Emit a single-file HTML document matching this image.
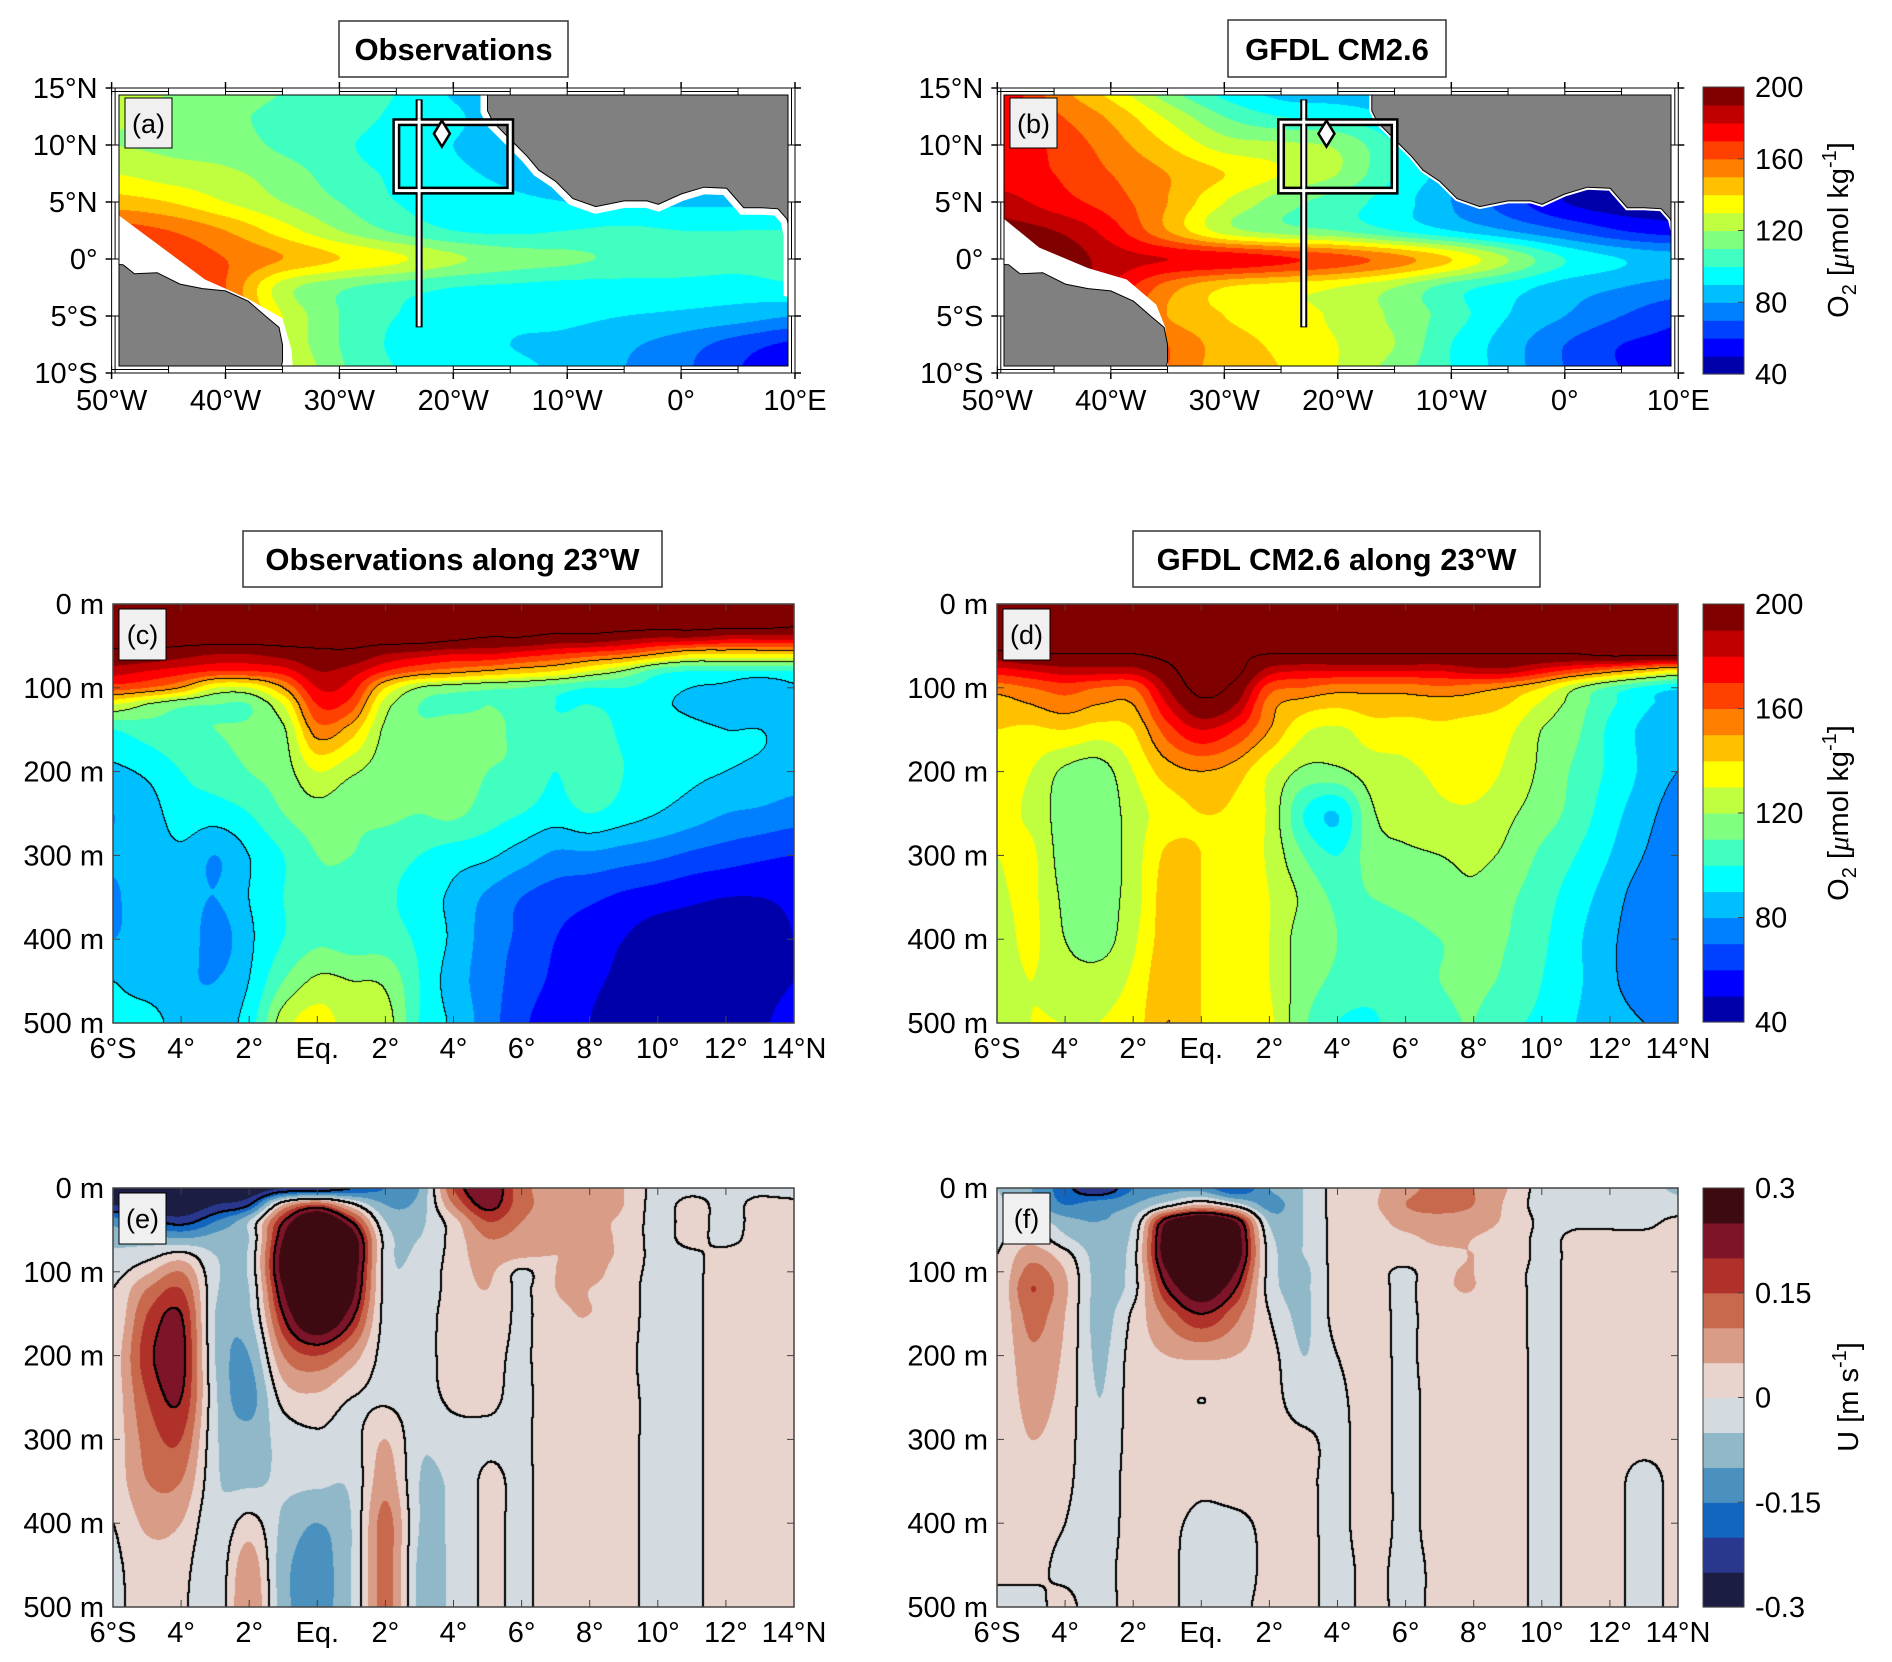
<!DOCTYPE html>
<html><head><meta charset="utf-8">
<style>
html,body{margin:0;padding:0;background:#fff;}
#wrap{position:relative;width:1892px;height:1662px;overflow:hidden;background:#fff;font-family:"Liberation Sans",sans-serif;}
canvas{position:absolute;}
#ov{position:absolute;left:0;top:0;}
</style></head><body>
<div id="wrap">
<canvas id="cvA"></canvas>
<canvas id="cvB"></canvas>
<canvas id="cvC"></canvas>
<canvas id="cvD"></canvas>
<canvas id="cvE"></canvas>
<canvas id="cvF"></canvas>
<svg id="ov" width="1892" height="1662" xmlns="http://www.w3.org/2000/svg" font-family="Liberation Sans, sans-serif">
<g><rect x="339" y="21" width="229" height="56" fill="#fff" stroke="#333" stroke-width="1.5"/><text x="453.5" y="60" font-size="31" font-weight="bold" text-anchor="middle">Observations</text></g>
<g><rect x="1228" y="20" width="218" height="57" fill="#fff" stroke="#333" stroke-width="1.5"/><text x="1337" y="60" font-size="31" font-weight="bold" text-anchor="middle">GFDL CM2.6</text></g>
<g><rect x="243" y="531" width="419" height="56" fill="#fff" stroke="#333" stroke-width="1.5"/><text x="452.5" y="570" font-size="31" font-weight="bold" text-anchor="middle">Observations along 23°W</text></g>
<g><rect x="1133" y="531" width="407" height="56" fill="#fff" stroke="#333" stroke-width="1.5"/><text x="1336.5" y="570" font-size="31" font-weight="bold" text-anchor="middle">GFDL CM2.6 along 23°W</text></g>
<text transform="translate(1848,230) rotate(-90)" font-size="29" text-anchor="middle">O<tspan font-size="20" dy="8">2</tspan><tspan dy="-8"> [</tspan><tspan font-style="italic" font-family="Liberation Serif, serif">μ</tspan>mol kg<tspan font-size="20" dy="-12">-1</tspan><tspan dy="12">]</tspan></text>
<text transform="translate(1848,813) rotate(-90)" font-size="29" text-anchor="middle">O<tspan font-size="20" dy="8">2</tspan><tspan dy="-8"> [</tspan><tspan font-style="italic" font-family="Liberation Serif, serif">μ</tspan>mol kg<tspan font-size="20" dy="-12">-1</tspan><tspan dy="12">]</tspan></text>
<text transform="translate(1858,1397) rotate(-90)" font-size="29" text-anchor="middle">U [m s<tspan font-size="20" dy="-12">-1</tspan><tspan dy="12">]</tspan></text>
<g id="dyn"></g>
</svg>
</div>
<script>
// ---------- DATA ----------
const mapLons=[-50,-45,-40,-35,-30,-25,-20,-15,-10,-5,0,5,10];
const mapLats=[15,12.5,10,7.5,5,2.5,0,-2.5,-5,-7.5,-10];
const obsMapO2=[
[125,120,115,110,105,100,88,80,80,80,80,80,80],
[122,118,112,108,105,98,92,82,80,80,80,80,80],
[120,118,115,108,102,95,90,85,80,80,80,80,80],
[130,125,122,115,105,98,92,88,85,80,80,80,80],
[145,140,130,120,110,100,95,92,90,88,88,88,85],
[165,160,150,135,120,108,100,98,100,102,100,100,100],
[170,168,160,150,140,132,122,115,112,108,106,104,106],
[170,172,160,125,112,105,100,98,96,96,96,95,98],
[150,165,160,130,110,100,95,92,92,90,88,85,80],
[150,150,155,130,110,98,92,90,88,82,75,65,58],
[150,150,150,135,112,100,95,92,88,80,72,60,55]];
const modelMapO2=[
[180,155,135,112,95,85,82,80,80,80,80,80,80],
[175,162,148,128,110,100,98,90,85,80,80,80,80],
[178,168,155,140,125,122,118,100,85,70,60,55,55],
[175,170,160,150,140,130,120,100,85,70,55,50,50],
[185,175,165,150,130,115,105,95,80,65,50,45,45],
[195,190,175,150,125,115,110,100,90,80,70,60,55],
[205,200,185,180,178,172,165,155,140,120,100,90,85],
[205,200,180,155,140,135,130,120,105,95,85,80,75],
[200,195,170,150,140,135,128,118,105,90,80,70,62],
[195,190,170,160,145,138,130,120,100,85,70,60,58],
[190,190,185,160,145,140,130,115,100,85,70,60,60]];
const secLats=[-6,-5,-4,-3,-2,-1,0,1,2,3,4,5,6,7,8,9,10,11,12,13,14];
const secDepths=[0,20,40,60,80,100,120,150,200,250,300,350,400,450,500];
const obsSecO2=[
[230,230,230,230,230,230,230,230,230,230,230,230,230,230,230,230,230,230,230,230,230],
[220,220,220,220,220,220,220,220,220,220,220,220,220,220,220,220,220,220,220,220,215],
[215,215,215,215,215,215,215,215,215,215,210,205,205,200,200,195,190,190,185,185,185],
[200,200,195,190,190,195,200,200,190,185,180,180,175,170,165,160,150,140,140,140,140],
[185,180,175,170,170,175,190,185,170,160,155,150,145,140,130,120,105,100,100,100,100],
[165,160,150,130,130,150,180,175,140,120,115,112,110,105,100,100,95,90,88,82,88],
[130,120,112,110,110,130,170,165,125,110,108,110,108,100,100,98,92,88,85,82,80],
[100,105,108,110,112,118,155,145,118,112,115,112,108,102,105,98,95,92,90,90,88],
[88,92,100,105,110,115,130,122,115,112,115,110,108,100,108,100,95,92,90,88,85],
[80,85,95,95,100,110,116,112,112,110,112,105,100,95,100,95,90,85,80,78,75],
[82,85,88,80,90,100,110,110,105,100,95,92,85,78,78,75,72,68,65,62,60],
[78,88,85,80,90,100,108,105,102,95,88,78,70,65,62,58,55,52,50,50,52],
[80,85,88,75,88,100,108,105,105,98,88,75,68,60,55,50,45,45,45,45,50],
[90,85,82,80,90,110,122,120,118,100,85,75,65,58,52,48,45,45,45,45,50],
[92,95,85,85,95,125,135,125,125,100,88,75,62,55,50,45,45,45,45,48,55]];
const modelSecO2=[
[220,220,220,220,220,220,220,220,220,220,220,220,220,220,220,220,220,220,220,220,220],
[220,220,220,220,220,220,220,220,220,220,220,220,220,220,220,220,220,220,220,220,220],
[220,220,220,220,220,220,220,220,220,220,220,220,220,220,220,220,220,220,220,220,220],
[200,205,205,205,205,210,215,210,205,205,205,205,205,205,205,205,205,205,210,210,210],
[175,180,185,185,185,200,215,210,185,180,180,180,180,180,185,185,175,165,155,145,135],
[155,160,165,160,160,190,210,200,165,160,155,155,155,158,155,150,140,122,108,98,92],
[145,150,155,150,150,180,200,190,155,145,142,145,145,145,145,140,128,115,102,92,86],
[140,138,140,135,140,165,180,170,150,132,128,135,135,138,135,132,120,112,98,88,84],
[135,130,118,115,130,145,150,145,130,118,118,125,128,132,135,128,118,108,98,88,80],
[132,128,115,112,125,135,140,138,128,100,90,118,125,128,128,122,115,106,94,84,75],
[130,132,115,112,125,142,140,138,128,110,100,115,118,120,122,118,108,100,90,80,72],
[128,132,118,115,125,145,140,138,130,118,108,110,112,115,118,112,104,95,85,75,72],
[125,132,120,115,128,145,140,138,130,115,110,108,108,110,112,110,102,92,82,75,75],
[125,130,125,125,132,148,140,138,130,115,108,105,108,110,112,108,100,92,82,76,78],
[125,130,130,130,135,150,140,138,132,112,100,98,108,108,110,102,98,90,84,80,80]];
const obsSecU=[
[-0.3,-0.3,-0.3,-0.3,-0.3,-0.25,-0.25,-0.2,-0.15,-0.1,0.15,0.25,0.12,0.08,0.08,0.05,-0.02,-0.02,-0.02,-0.02,-0.04],
[-0.25,-0.3,-0.3,-0.25,-0.2,0.05,0.15,0.02,-0.1,-0.08,0.1,0.22,0.12,0.08,0.08,0.05,-0.02,0.02,-0.02,0.02,0.02],
[-0.12,-0.18,-0.22,-0.15,-0.05,0.2,0.35,0.2,-0.05,-0.06,0.03,0.15,0.1,0.07,0.06,0.04,-0.02,0.02,-0.02,0.02,0.02],
[-0.07,-0.08,-0.1,-0.08,-0.05,0.25,0.4,0.3,-0.02,-0.05,0.02,0.1,0.08,0.06,0.06,0.04,-0.02,0.02,-0.02,0.03,0.02],
[-0.04,-0.02,0.02,-0.05,-0.04,0.28,0.42,0.32,-0.02,-0.04,0.02,0.08,0.06,0.05,0.06,0.04,-0.02,-0.01,0.02,0.03,0.02],
[-0.02,0.04,0.1,-0.04,-0.04,0.28,0.42,0.3,-0.02,-0.03,0.02,0.06,-0.01,0.05,0.06,0.03,-0.02,-0.01,0.02,0.02,0.02],
[0.0,0.1,0.15,-0.04,-0.05,0.25,0.4,0.28,-0.02,-0.03,0.02,0.05,-0.01,0.05,0.05,0.03,-0.03,-0.01,0.02,0.02,0.02],
[0.0,0.15,0.2,-0.05,-0.06,0.2,0.35,0.22,-0.02,-0.02,0.02,0.04,-0.01,0.04,0.05,0.03,-0.03,-0.01,0.02,0.02,0.02],
[0.02,0.18,0.22,-0.05,-0.1,0.1,0.15,0.08,-0.02,-0.02,0.02,0.02,-0.01,0.04,0.04,0.02,-0.03,-0.01,0.02,0.02,0.02],
[0.02,0.15,0.2,-0.04,-0.12,0.02,0.04,0.0,-0.01,-0.02,0.01,0.01,-0.01,0.03,0.04,0.02,-0.02,-0.01,0.02,0.01,0.02],
[0.02,0.12,0.15,-0.04,-0.08,-0.03,-0.01,-0.02,0.05,-0.04,-0.02,-0.01,-0.01,0.03,0.04,0.02,-0.02,-0.01,0.02,0.01,0.02],
[0.02,0.1,0.1,-0.04,-0.06,-0.04,-0.04,-0.04,0.08,-0.05,-0.04,0.01,-0.01,0.03,0.04,0.02,-0.02,-0.01,0.02,0.01,0.02],
[0.0,0.06,0.05,-0.04,0.02,-0.06,-0.1,-0.05,0.12,-0.05,-0.04,0.01,-0.01,0.03,0.04,0.02,-0.02,-0.01,0.02,0.01,0.02],
[-0.01,0.03,0.02,-0.04,0.08,-0.08,-0.12,-0.05,0.12,-0.06,-0.04,0.01,-0.01,0.03,0.04,0.02,-0.02,-0.01,0.02,0.01,0.02],
[-0.01,0.02,0.01,-0.04,0.1,-0.08,-0.12,-0.05,0.12,-0.06,-0.04,0.01,-0.01,0.03,0.04,0.02,-0.02,-0.01,0.02,0.01,0.02]];
const modelSecU=[
[-0.05,-0.1,-0.18,-0.25,-0.15,-0.12,-0.12,-0.2,-0.1,-0.05,0.02,0.04,0.08,0.12,0.1,0.05,-0.02,-0.02,-0.02,-0.03,-0.06],
[-0.04,-0.08,-0.15,-0.12,-0.1,-0.02,0.05,-0.02,-0.12,-0.05,0.02,0.04,0.1,0.12,0.1,0.04,-0.02,-0.02,-0.02,-0.02,-0.03],
[-0.02,-0.02,-0.08,-0.1,-0.05,0.25,0.35,0.25,-0.06,-0.05,0.02,0.03,0.07,0.08,0.07,0.04,-0.01,-0.01,-0.01,-0.01,0.01],
[-0.01,0.03,-0.04,-0.08,-0.03,0.3,0.4,0.3,-0.03,-0.05,0.02,0.03,0.04,0.06,0.05,0.03,-0.01,0.01,0.01,0.01,0.01],
[0.0,0.08,0.02,-0.07,-0.02,0.3,0.4,0.3,-0.02,-0.05,0.02,0.02,0.03,0.04,0.05,0.03,-0.01,0.01,0.01,0.01,0.01],
[0.0,0.12,0.05,-0.07,-0.02,0.25,0.35,0.25,-0.02,-0.06,0.02,0.02,-0.01,0.04,0.05,0.02,-0.01,0.01,0.01,0.01,0.01],
[0.0,0.15,0.06,-0.07,-0.02,0.2,0.3,0.2,-0.02,-0.06,0.02,0.02,-0.01,0.04,0.05,0.02,-0.01,0.01,0.01,0.01,0.01],
[0.0,0.12,0.05,-0.07,0.01,0.12,0.2,0.12,0.0,-0.06,0.02,0.02,-0.01,0.03,0.04,0.02,-0.01,0.01,0.01,0.01,0.01],
[0.0,0.09,0.04,-0.06,0.02,0.05,0.06,0.05,0.02,-0.05,0.0,0.02,-0.01,0.03,0.03,0.02,-0.01,0.01,0.01,0.01,0.01],
[0.0,0.07,0.03,-0.05,0.02,0.02,0.0,0.02,0.02,-0.03,-0.01,0.02,-0.01,0.02,0.02,0.02,-0.01,0.01,0.01,0.01,0.01],
[0.0,0.05,0.02,-0.04,0.02,0.03,0.03,0.02,0.02,0.01,-0.01,0.02,-0.01,0.02,0.02,0.02,-0.01,0.01,0.01,0.01,0.01],
[0.0,0.03,0.01,-0.03,0.02,0.02,0.01,0.02,0.02,0.01,-0.01,0.02,-0.01,0.02,0.02,0.02,-0.01,0.01,0.01,-0.01,0.01],
[0.0,0.02,0.0,-0.03,0.02,0.01,-0.01,-0.01,0.01,0.01,-0.01,0.02,-0.01,0.02,0.02,0.02,-0.01,0.01,0.01,-0.01,0.01],
[0.0,0.01,-0.01,-0.02,0.02,0.01,-0.02,-0.02,0.01,0.01,-0.01,0.01,-0.01,0.01,0.02,0.02,-0.01,0.01,0.01,-0.01,0.01],
[0.0,-0.01,0.01,-0.02,0.02,0.01,-0.02,-0.01,0.01,0.01,-0.01,0.01,-0.01,0.01,0.02,0.02,-0.01,0.01,0.01,-0.01,0.01]];
const o2Colors=['#0000aa','#0000ff','#0040ff','#0080ff','#00bfff','#00ffff','#40ffc0','#80ff80','#c0ff40','#ffff00','#ffc000','#ff8000','#ff4000','#ff0000','#c00000','#800000'];
const uColors=['#1b1d42','#2a378f','#1266c0','#4a91c0','#91b8c8','#d3dbe0','#e8d3cd','#d99c86','#c8694e','#b0312a','#7d1428','#3e0a12'];
const mapLonTicks=[-50,-40,-30,-20,-10,0,10];
const mapLonLabels=['50°W','40°W','30°W','20°W','10°W','0°','10°E'];
const mapLatTicks=[15,10,5,0,-5,-10];
const mapLatLabels=['15°N','10°N','5°N','0°','5°S','10°S'];
const secLatTicks=[-6,-4,-2,0,2,4,6,8,10,12,14];
const secLatLabels=['6°S','4°','2°','Eq.','2°','4°','6°','8°','10°','12°','14°N'];
const depthTicks=[0,100,200,300,400,500];
const depthLabels=['0 m','100 m','200 m','300 m','400 m','500 m'];
const o2CbTicks=[200,160,120,80,40];
const uCbTicks=[0.3,0.15,0,-0.15,-0.3];
const uCbLabels=['0.3','0.15','0','-0.15','-0.3'];

// ---------- helpers ----------
const NS='http://www.w3.org/2000/svg';
const dyn=document.getElementById('dyn');
function el(tag,attrs,parent){const e=document.createElementNS(NS,tag);for(const k in attrs)e.setAttribute(k,attrs[k]);(parent||dyn).appendChild(e);return e;}
function txt(x,y,s,size,anchor,name){const t=el('text',{x:x,y:y,'font-size':size,'text-anchor':anchor});


t.textContent=s;return t;}
function cr(p0,p1,p2,p3,t){return 0.5*(2*p1+(-p0+p2)*t+(2*p0-5*p1+4*p2-p3)*t*t+(-p0+3*p1-3*p2+p3)*t*t*t);}
function sample(G,fi,fj){const R=G.length,C=G[0].length;
 fi=Math.max(0,Math.min(R-1.0001,fi));fj=Math.max(0,Math.min(C-1.0001,fj));
 const i=Math.floor(fi),j=Math.floor(fj),ti=fi-i,tj=fj-j;const v=[];
 for(let a=-1;a<=2;a++){const r=G[Math.max(0,Math.min(R-1,i+a))];
  v.push(cr(r[Math.max(0,j-1)],r[j],r[Math.min(C-1,j+1)],r[Math.min(C-1,j+2)],tj));}
 return cr(v[0],v[1],v[2],v[3],ti);}
function depthIdx(d){for(let k=0;k<secDepths.length-1;k++){if(d<=secDepths[k+1])return k+(d-secDepths[k])/(secDepths[k+1]-secDepths[k]);}return secDepths.length-1;}
function hex(c){return [parseInt(c.slice(1,3),16),parseInt(c.slice(3,5),16),parseInt(c.slice(5,7),16)];}
function renderField(id,left,top,w,h,G,fiOf,fjOf,colors,vmin,step,levels,lw){
 const cv=document.getElementById(id);cv.width=w;cv.height=h;cv.style.left=left+'px';cv.style.top=top+'px';
 const ctx=cv.getContext('2d');const img=ctx.createImageData(w,h);const rgb=colors.map(hex);
 const fis=[],fjs=[];for(let y=0;y<h;y++)fis.push(fiOf(top+y+0.5));for(let x=0;x<w;x++)fjs.push(fjOf(left+x+0.5));
 const V=new Float32Array(w*h);
 for(let y=0;y<h;y++)for(let x=0;x<w;x++){V[y*w+x]=sample(G,fis[y],fjs[x]);}
 for(let p=0;p<w*h;p++){let b=Math.floor((V[p]-vmin)/step);b=Math.max(0,Math.min(colors.length-1,b));const c=rgb[b];img.data[p*4]=c[0];img.data[p*4+1]=c[1];img.data[p*4+2]=c[2];img.data[p*4+3]=255;}
 for(let y=0;y<h;y++)for(let x=0;x<w;x++){const p=y*w+x,v=V[p];
  for(const L of levels){const r=x<w-1?V[p+1]:v,d=y<h-1?V[p+w]:v;
   if((v-L)*(r-L)<0||(v-L)*(d-L)<0){for(let a=0;a<lw;a++)for(let b2=0;b2<lw;b2++){const q=(Math.min(h-1,y+a))*w+Math.min(w-1,x+b2);img.data[q*4]=0;img.data[q*4+1]=0;img.data[q*4+2]=0;}}}}
 ctx.putImageData(img,0,0);}

// ---------- MAPS ----------
const maps=[{id:'A',x0:111.6,ppd:11.39,G:obsMapO2,lab:'(a)',coastW:14},{id:'B',x0:997.3,ppd:11.35,G:modelMapO2,lab:'(b)',coastW:5}];
const mY0=88,mPpd=11.4;
maps.forEach(m=>{
 const X=lon=>m.x0+(lon+50)*m.ppd, Y=lat=>mY0+(15-lat)*mPpd;
 const x1=X(10),y1=Y(-10),ins=7;
 const L=Math.round(m.x0+ins),T=Math.round(mY0+ins),Wd=Math.round(x1-ins)-L,Ht=Math.round(y1-ins)-T;
 renderField('cv'+m.id,L,T,Wd,Ht,m.G,y=>(15-(15-(y-mY0)/mPpd))/2.5,x=>((x-m.x0)/m.ppd)/5,o2Colors,40,10,[],1);
 const g=el('g',{});
 
 
 const cp=el('clipPath',{id:'clip'+m.id},g);el('rect',{x:L,y:T,width:Wd,height:Ht},cp);
 const cg=el('g',{'clip-path':'url(#clip'+m.id+')'},g);
 const pts=a=>a.map(p=>X(p[0]).toFixed(1)+','+Y(p[1]).toFixed(1)).join(' ');
 const africa=[[-17,16],[-17,13],[-16.5,12],[-15.5,11],[-14.5,10],[-13.5,9],[-12.5,7.8],[-11,6.8],[-9.5,5.3],[-7.5,4.6],[-5,5.1],[-3,5.1],[-2,4.8],[0,5.7],[2,6.3],[4,6.2],[5.5,4.5],[7,4.5],[8.5,4.4],[9.3,3.5],[9.6,2.2],[11,1.5],[11,16]];
 const sam=[[-51,-0.4],[-49,-0.5],[-48,-1.3],[-46,-1.2],[-44,-2.2],[-42,-2.6],[-40,-2.8],[-38,-3.7],[-36.5,-5],[-35.3,-6],[-35,-7.5],[-35,-9],[-35.5,-11],[-51,-11]];
 const whiteSA=m.id==='A'?[[-51,4.3],[-50,4.3],[-41.8,-1.8],[-38,-3.5],[-35,-5.2],[-34.2,-8],[-34,-11],[-51,-11]]:[[-51,4],[-50,4],[-46.3,1],[-42,-0.8],[-38.6,-1.8],[-36,-4],[-35.2,-6],[-34.8,-11],[-51,-11]];
 el('polygon',{points:pts(whiteSA),fill:'#fff'},cg);
 if(m.id==='A'){el('polygon',{points:pts([[9,3],[11,3],[11,-4],[9,-3.2]]),fill:'#fff'},cg);}
 el('polyline',{points:pts(africa.slice(0,21)),fill:'none',stroke:'#fff','stroke-width':m.coastW},cg);
 const la=el('polygon',{points:pts(africa),fill:'#808080',stroke:'#000','stroke-width':1},cg);
 
 
 const ls=el('polygon',{points:pts(sam),fill:'#808080',stroke:'#000','stroke-width':1},cg);
 
 
 const sl=el('g',{},g);
 
 
 el('line',{x1:X(-23),y1:Y(14),x2:X(-23),y2:Y(-6),stroke:'#000','stroke-width':7},sl);
 el('line',{x1:X(-23),y1:Y(14)+1,x2:X(-23),y2:Y(-6)-1,stroke:'#fff','stroke-width':3},sl);
 const bx=el('g',{},g);
 
 
 el('rect',{x:X(-25),y:Y(12),width:X(-15)-X(-25),height:Y(6)-Y(12),fill:'none',stroke:'#000','stroke-width':8},bx);
 el('rect',{x:X(-25),y:Y(12),width:X(-15)-X(-25),height:Y(6)-Y(12),fill:'none',stroke:'#fff','stroke-width':3},bx);
 el('line',{x1:X(-23),y1:Y(12)-4,x2:X(-23),y2:Y(6)+4,stroke:'#fff','stroke-width':3},bx);
 const dm=el('polygon',{points:[[X(-21),Y(11)-13],[X(-21)+8,Y(11)],[X(-21),Y(11)+13],[X(-21)-8,Y(11)]].map(p=>p.join(',')).join(' '),fill:'#fff',stroke:'#000','stroke-width':2.5},g);
 
 
 const fr=el('g',{},g);
 
 
 const x0=m.x0;
 el('path',{d:`M${x0},${mY0}H${x1}V${y1}H${x0}Z M${L},${T}V${T+Ht}H${L+Wd}V${T}Z`,fill:'#fff','fill-rule':'evenodd',stroke:'#000','stroke-width':1},fr);
 for(let lon=-50;lon<10;lon+=5){const a=X(lon),b=X(lon+5);if(((lon+50)/5)%2===0){el('line',{x1:a,y1:mY0+3.5,x2:b,y2:mY0+3.5,stroke:'#000','stroke-width':1},fr);el('line',{x1:a,y1:y1-3.5,x2:b,y2:y1-3.5,stroke:'#000','stroke-width':1},fr);}
  el('line',{x1:a,y1:mY0,x2:a,y2:T,stroke:'#000'},fr);el('line',{x1:a,y1:y1,x2:a,y2:T+Ht,stroke:'#000'},fr);}
 for(let lat=15;lat>-10;lat-=5){const a=Y(lat),b=Y(lat-5);if(((15-lat)/5)%2===0){el('line',{x1:x0+3.5,y1:a,x2:x0+3.5,y2:b,stroke:'#000'},fr);el('line',{x1:x1-3.5,y1:a,x2:x1-3.5,y2:b,stroke:'#000'},fr);}
  el('line',{x1:x0,y1:a,x2:L,y2:a,stroke:'#000'},fr);el('line',{x1:x1,y1:a,x2:L+Wd,y2:a,stroke:'#000'},fr);}
 mapLonTicks.forEach((lon,k)=>{el('line',{x1:X(lon),y1:mY0-6,x2:X(lon),y2:mY0,stroke:'#000','stroke-width':1.5},fr);el('line',{x1:X(lon),y1:y1,x2:X(lon),y2:y1+6,stroke:'#000','stroke-width':1.5},fr);
  txt(X(lon),y1+37,mapLonLabels[k],29,'middle','lon-tick-label');});
 mapLatTicks.forEach((lat,k)=>{el('line',{x1:x0-6,y1:Y(lat),x2:x0,y2:Y(lat),stroke:'#000','stroke-width':1.5},fr);el('line',{x1:x1,y1:Y(lat),x2:x1+6,y2:Y(lat),stroke:'#000','stroke-width':1.5},fr);
  txt(x0-14,Y(lat)+10,mapLatLabels[k],29,'end','lat-tick-label');});
 const pl=el('g',{},g);
 
 
 el('rect',{x:L+6,y:T+3,width:47,height:50,fill:'#f0f0f0',stroke:'#000','stroke-width':1},pl);
 const tl=el('text',{x:L+29.5,y:T+38,'font-size':27,'text-anchor':'middle'},pl);tl.textContent=m.lab;
});

// ---------- SECTIONS ----------
const secs=[
 {id:'C',x0:113,x1:794,y0:604,y1:1023,G:obsSecO2,col:o2Colors,vmin:40,step:10,lev:[90,120,150,205],lw:1,lab:'(c)'},
 {id:'D',x0:997,x1:1678,y0:604,y1:1023,G:modelSecO2,col:o2Colors,vmin:40,step:10,lev:[80,120,150,205],lw:1,lab:'(d)'},
 {id:'E',x0:113,x1:794,y0:1188,y1:1607,G:obsSecU,col:uColors,vmin:-0.3,step:0.05,lev:[0,0.2,-0.2],lw:2,lab:'(e)'},
 {id:'F',x0:997,x1:1678,y0:1188,y1:1607,G:modelSecU,col:uColors,vmin:-0.3,step:0.05,lev:[0,0.2,-0.2],lw:2,lab:'(f)'}];
secs.forEach(s=>{
 const X=lat=>s.x0+(lat+6)*(s.x1-s.x0)/20, Y=d=>s.y0+d*(s.y1-s.y0)/500;
 renderField('cv'+s.id,s.x0,s.y0,s.x1-s.x0,s.y1-s.y0,s.G,y=>depthIdx((y-s.y0)*500/(s.y1-s.y0)),x=>(x-s.x0)*20/(s.x1-s.x0),s.col,s.vmin,s.step,s.lev,s.lw);
 const g=el('g',{});
 
 
 el('rect',{x:s.x0,y:s.y0,width:s.x1-s.x0,height:s.y1-s.y0,fill:'none',stroke:'#444','stroke-width':1.5},g);
 secLatTicks.forEach((lat,k)=>{el('line',{x1:X(lat),y1:s.y1,x2:X(lat),y2:s.y1-7,stroke:'#444'},g);el('line',{x1:X(lat),y1:s.y0,x2:X(lat),y2:s.y0+7,stroke:'#444'},g);
  txt(X(lat),s.y1+35,secLatLabels[k],29,'middle','lat-tick-label');});
 depthTicks.forEach((d,k)=>{el('line',{x1:s.x0,y1:Y(d),x2:s.x0+7,y2:Y(d),stroke:'#444'},g);el('line',{x1:s.x1,y1:Y(d),x2:s.x1-7,y2:Y(d),stroke:'#444'},g);
  txt(s.x0-9,Y(d)+10,depthLabels[k],29,'end','depth-tick-label');});
 const pl=el('g',{},g);
 
 
 el('rect',{x:s.x0+6,y:s.y0+5,width:47,height:51,fill:'#f0f0f0',stroke:'#000','stroke-width':1},pl);
 const tl=el('text',{x:s.x0+29.5,y:s.y0+40,'font-size':27,'text-anchor':'middle'},pl);tl.textContent=s.lab;
});

// ---------- COLORBARS ----------
function colorbar(name,x,y0,y1,colors,vmin,vmax,ticks,labels){
 const g=el('g',{});
 
 
 const n=colors.length,h=(y1-y0)/n;
 colors.forEach((c,i)=>{el('rect',{x:x,y:y1-(i+1)*h,width:41,height:h+0.6,fill:c},g);});
 el('rect',{x:x,y:y0,width:41,height:y1-y0,fill:'none',stroke:'#444','stroke-width':1},g);
 ticks.forEach((t,k)=>{const yy=y1-(t-vmin)/(vmax-vmin)*(y1-y0);el('line',{x1:x+41,y1:yy,x2:x+35,y2:yy,stroke:'#444'},g);
  txt(x+52,yy+10,labels[k],29,'start','colorbar-tick-label');});
}
colorbar('colorbar-b',1703,87,374,o2Colors,40,200,o2CbTicks,o2CbTicks.map(String));
colorbar('colorbar-d',1703,604,1022,o2Colors,40,200,o2CbTicks,o2CbTicks.map(String));
colorbar('colorbar-f',1703,1188,1607,uColors,-0.3,0.3,uCbTicks,uCbLabels);
</script>
</body></html>
